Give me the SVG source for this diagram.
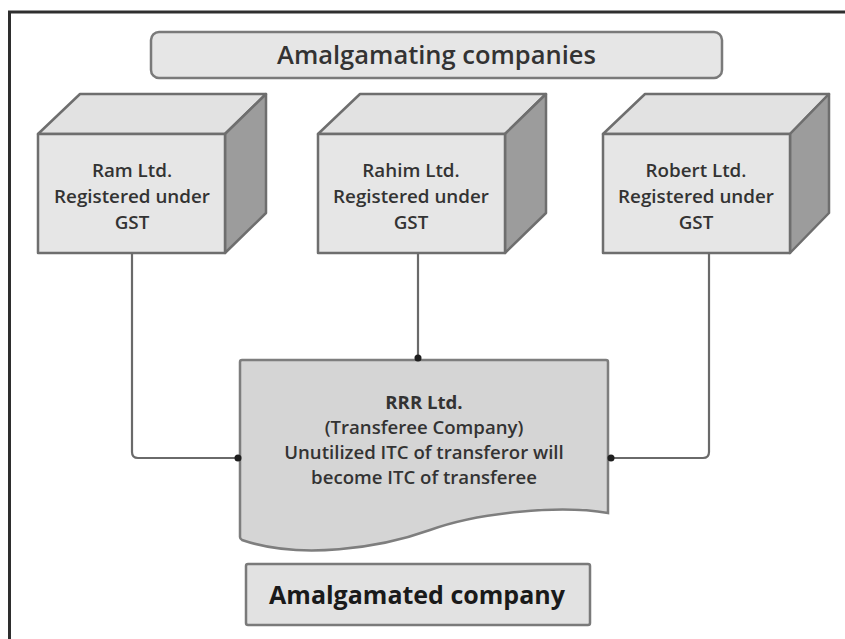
<svg xmlns="http://www.w3.org/2000/svg" width="845" height="639" viewBox="0 0 845 639">
<defs>
<style>
.t{font-family:"Open Sans","Liberation Sans",sans-serif;fill:#333;text-anchor:middle;}
.cube-front{fill:#e6e6e6;stroke:#6e6e6e;stroke-width:2.5;stroke-linejoin:round;}
.cube-top{fill:#e2e2e2;stroke:#6e6e6e;stroke-width:2.5;stroke-linejoin:round;}
.cube-side{fill:#9c9c9c;stroke:#6e6e6e;stroke-width:2.5;stroke-linejoin:round;}
.conn{fill:none;stroke:#6a6a6a;stroke-width:2.2;stroke-linejoin:round;}
</style>
<marker id="dot" viewBox="0 0 10 10" refX="5" refY="5" markerWidth="4" markerHeight="4" markerUnits="strokeWidth">
<circle cx="5" cy="5" r="4" fill="#1e1e1e"/>
</marker>
</defs>
<rect x="0" y="0" width="845" height="639" fill="#ffffff"/>
<rect x="9.5" y="12" width="900" height="700" fill="none" stroke="#2e2e2e" stroke-width="3"/>

<g id="banner-top">
<rect x="151" y="32" width="571" height="46" rx="8" fill="#e6e6e6" stroke="#7a7a7a" stroke-width="2.5"/>
<text class="t" x="436.5" y="64" font-size="25.5" font-weight="600">Amalgamating companies</text>
</g>

<g id="ram">
<polygon class="cube-top" points="38,134 80,94 266,94 225,134"/>
<polygon class="cube-side" points="225,134 266,94 266,213 225,253"/>
<rect class="cube-front" x="38" y="134" width="187" height="119"/>
<text class="t" font-size="18.8" font-weight="600"><tspan x="132" y="177">Ram Ltd.</tspan><tspan x="132" y="203">Registered under</tspan><tspan x="132" y="229">GST</tspan></text>
</g>

<g id="rahim">
<polygon class="cube-top" points="318,134 360,94 546,94 505,134"/>
<polygon class="cube-side" points="505,134 546,94 546,213 505,253"/>
<rect class="cube-front" x="318" y="134" width="187" height="119"/>
<text class="t" font-size="18.8" font-weight="600"><tspan x="411" y="177">Rahim Ltd.</tspan><tspan x="411" y="203">Registered under</tspan><tspan x="411" y="229">GST</tspan></text>
</g>

<g id="robert">
<polygon class="cube-top" points="603,134 645,94 829,94 790,134"/>
<polygon class="cube-side" points="790,134 829,94 829,213 790,253"/>
<rect class="cube-front" x="603" y="134" width="187" height="119"/>
<text class="t" font-size="18.8" font-weight="600"><tspan x="696" y="177">Robert Ltd.</tspan><tspan x="696" y="203">Registered under</tspan><tspan x="696" y="229">GST</tspan></text>
</g>

<g id="rrr">
<path d="M242,360 H606 Q608,360 608,362 V513 C560,505 480,512 430,530 C380,548 300,560 242,540 Q240,539 240,537 V362 Q240,360 242,360 Z" fill="#d5d5d5" stroke="#7e7e7e" stroke-width="2.5"/>
<text class="t" font-size="18.6"><tspan x="424" y="409" font-weight="700">RRR Ltd.</tspan><tspan x="424" y="434" font-weight="600">(Transferee Company)</tspan><tspan x="424" y="459" font-weight="600">Unutilized ITC of transferor will</tspan><tspan x="424" y="484" font-weight="600">become ITC of transferee</tspan></text>
</g>

<g id="banner-bottom">
<rect x="246" y="564" width="344" height="61" rx="2" fill="#e2e2e2" stroke="#7a7a7a" stroke-width="2.5"/>
<text class="t" x="417" y="604" font-size="25" font-weight="700" style="fill:#1a1a1a">Amalgamated company</text>
</g>

<g id="connectors">
<path class="conn" d="M132,253 V452 Q132,458 138,458 H238" marker-end="url(#dot)"/>
<path class="conn" d="M418,253 V358" marker-end="url(#dot)"/>
<path class="conn" d="M709,253 V452 Q709,458 703,458 H611" marker-end="url(#dot)"/>
</g>
</svg>
